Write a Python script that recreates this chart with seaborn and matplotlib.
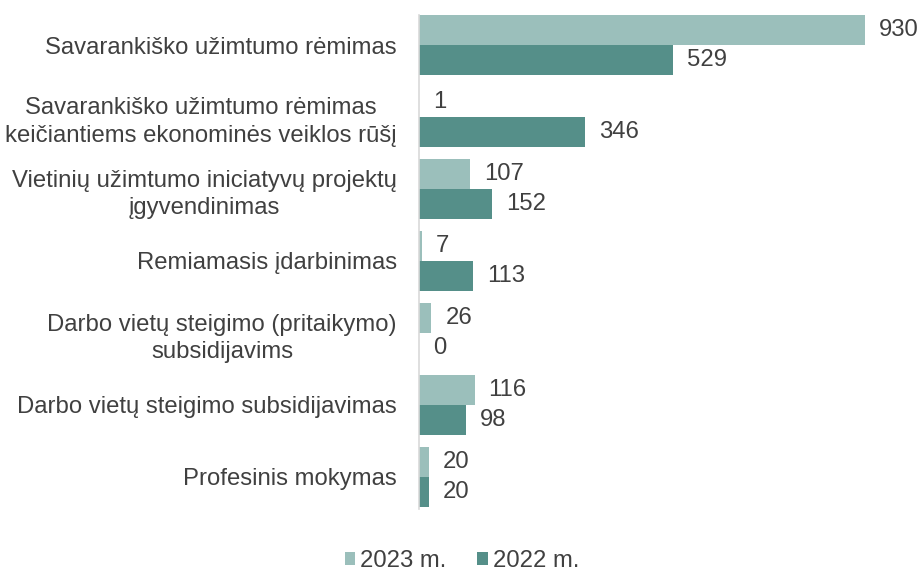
import matplotlib
matplotlib.use("Agg")
import matplotlib.pyplot as plt
import seaborn as sns
import pandas as pd
from matplotlib.patches import Patch

categories = [
    "Savarankiško užimtumo rėmimas",
    "Savarankiško užimtumo rėmimas\nkeičiantiems ekonominės veiklos rūšį",
    "Vietinių užimtumo iniciatyvų projektų\nįgyvendinimas",
    "Remiamasis įdarbinimas",
    "Darbo vietų steigimo (pritaikymo)\nsubsidijavims",
    "Darbo vietų steigimo subsidijavimas",
    "Profesinis mokymas",
]
series_names = ["2023 m.", "2022 m."]
values_2023 = [930, 1, 107, 7, 26, 116, 20]
values_2022 = [529, 346, 152, 113, 0, 98, 20]

colors = ["#9BBFBB", "#558F89"]
text_color = "#404040"
fs = 17.2

df = pd.DataFrame({
    "cat": categories * 2,
    "year": [series_names[0]] * len(categories) + [series_names[1]] * len(categories),
    "val": values_2023 + values_2022,
})

sns.set_theme(style="white")
plt.rcParams["font.family"] = ["Liberation Sans", "DejaVu Sans"]

fig = plt.figure(figsize=(9.24, 5.74), dpi=100)
ax = fig.add_axes([419 / 924, 1 - 513 / 574, (899 - 419) / 924, (513 - 9) / 574])

sns.barplot(data=df, y="cat", x="val", hue="year", order=categories,
            hue_order=series_names, palette=colors, orient="h",
            width=0.833, saturation=1, linewidth=0, ax=ax, legend=False)

ax.set_xlim(0, 1000)
ax.set_ylim(len(categories) - 0.5, -0.5)
ax.set_xlabel("")
ax.set_ylabel("")
ax.set_xticks([])
for s in ["top", "right", "bottom"]:
    ax.spines[s].set_visible(False)
ax.spines["left"].set_color("#D9D9D9")
ax.spines["left"].set_linewidth(1.2)
ax.spines["left"].set_bounds(-0.42, len(categories) - 0.55)

ax.set_yticks(range(len(categories)))
ax.set_yticklabels(categories, fontsize=fs, color=text_color,
                   multialignment="center", linespacing=1.3)
ax.tick_params(axis="y", length=0, pad=16)

for cont in ax.containers:
    ax.bar_label(cont, labels=[f"{int(v)}" for v in cont.datavalues],
                 padding=10, fontsize=fs, color=text_color)

handles = [Patch(facecolor=c, edgecolor="none") for c in colors]
fig.legend(handles, series_names, loc="center", bbox_to_anchor=(0.5, 1 - 561 / 574),
           ncol=2, frameon=False, fontsize=fs, labelcolor=text_color,
           handlelength=0.45, handleheight=0.45, handletextpad=0.2, columnspacing=1.3)

fig.savefig("out.png", dpi=100)
